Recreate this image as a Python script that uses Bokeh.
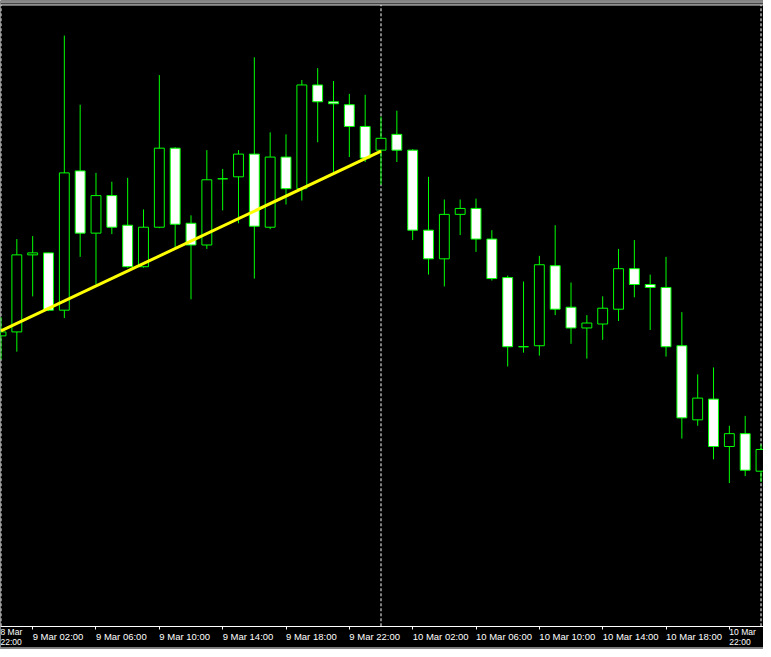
from bokeh.plotting import figure
from bokeh.models import (Range1d, FixedTicker, Span, ColumnDataSource, Label,
                          BoxAnnotation)
from bokeh.embed import file_html
from bokeh.resources import INLINE

# Hourly candles, hours after 9 Mar 00:00 (price in points)
hours = list(range(49))
opens = [661, 665, 743, 745, 687, 828, 765, 803, 773, 731, 771, 851, 775, 753, 820, 822,
         845, 771, 842, 810, 915, 898, 895, 873, 849, 865, 849, 768, 739, 784, 790, 759,
         720, 650, 651, 732, 690, 669, 673, 688, 729, 713, 710, 651, 576, 597, 549, 562, 524]
highs = [680, 759, 762, 745, 965, 895, 826, 817, 821, 789, 925, 852, 783, 849, 830, 849,
         943, 867, 865, 920, 932, 919, 906, 905, 883, 889, 850, 822, 799, 799, 800, 768,
         722, 716, 742, 773, 715, 682, 701, 749, 758, 723, 741, 685, 622, 629, 570, 580, 551]
lows = [637, 645, 701, 686, 679, 741, 713, 764, 730, 730, 770, 750, 698, 749, 788, 775,
        719, 769, 794, 798, 857, 827, 842, 837, 814, 837, 758, 723, 711, 763, 746, 717,
        630, 644, 641, 682, 653, 638, 657, 676, 700, 667, 640, 557, 570, 536, 512, 519, 513]
closes = [665, 743, 745, 687, 826, 765, 803, 771, 731, 771, 851, 774, 753, 819, 820, 845,
          772, 842, 810, 915, 898, 896, 873, 841, 861, 849, 768, 739, 784, 790, 759, 719,
          650, 650, 733, 688, 669, 674, 689, 729, 713, 710, 650, 578, 598, 549, 562, 525, 546]

tick_hours = [-2, 2, 6, 10, 14, 18, 22, 26, 30, 34, 38, 42, 46]
tick_labels = ["8 Mar 22:00", "9 Mar 02:00", "9 Mar 06:00", "9 Mar 10:00", "9 Mar 14:00",
               "9 Mar 18:00", "9 Mar 22:00", "10 Mar 02:00", "10 Mar 06:00", "10 Mar 10:00",
               "10 Mar 14:00", "10 Mar 18:00", "10 Mar 22:00"]

day_separators = [0, 24, 48]
trend_hours = [0, 24]
trend_prices = [666, 848]

GREEN = "#00FF00"
FONT = "Liberation Sans"
FONT_SIZE = "9.5px"
W, H = 763, 649
x_start, x_end = -0.5 / 16, 770.5 / 16
y_bottom, y_top = 343.5, 1000.5
axis_level = 367        # price level where the time axis is drawn
label_level = 356.5     # centre of the time labels
chart_top = 996         # white border line at the top of the chart
bottom_border = 345     # white border line under the labels

p = figure(frame_width=W, frame_height=H, output_backend="svg",
           toolbar_location=None, x_range=Range1d(x_start, x_end),
           y_range=Range1d(y_bottom, y_top), y_axis_location=None,
           min_border=0, background_fill_color="black",
           border_fill_color="black", outline_line_color=None)
p.xgrid.visible = False
p.ygrid.visible = False

src = ColumnDataSource(dict(
    x=hours, o=opens, h=highs, l=lows, c=closes,
    top=[max(a, b) for a, b in zip(opens, closes)],
    bot=[min(a, b) for a, b in zip(opens, closes)],
    fill=["white" if c < o else "black" for o, c in zip(opens, closes)],
))

# frame decorations
p.add_layout(BoxAnnotation(bottom=chart_top + 1.5, top=y_top, fill_color="#8a8a8a",
                           fill_alpha=1, line_color=None))
p.add_layout(Span(location=chart_top, dimension="width", line_color="white", line_width=1))
p.add_layout(Span(location=bottom_border, dimension="width", line_color="white", line_width=1))

# day separators
p.segment(x0=day_separators, y0=[axis_level] * len(day_separators),
          x1=day_separators, y1=[chart_top] * len(day_separators),
          line_color="white", line_width=1, line_dash="3 2")

p.segment(x0="x", y0="l", x1="x", y1="h", source=src, line_color=GREEN, line_width=1)
p.vbar(x="x", width=0.625, top="top", bottom="bot", source=src,
       fill_color="fill", line_color=GREEN, line_width=1)

p.line(trend_hours, trend_prices, line_color="#FFFF00", line_width=3)

# time axis
label_span = 3.6  # approx. label width in hours
inner = {t: s for t, s in zip(tick_hours, tick_labels) if t >= x_start and t + label_span <= x_end}
edge = [(t, s) for t, s in zip(tick_hours, tick_labels) if t not in inner]

ax = p.xaxis[0]
ax.fixed_location = axis_level
ax.ticker = FixedTicker(ticks=tick_hours)
ax.major_label_overrides = {t: inner.get(t, "") for t in tick_hours}
ax.axis_line_color = "white"
ax.major_tick_line_color = "white"
ax.major_tick_in = 0
ax.major_tick_out = 3
ax.minor_tick_line_color = None
ax.major_label_standoff = 7
ax.major_label_orientation = -0.0001
ax.major_label_text_color = "white"
ax.major_label_text_font = FONT
ax.major_label_text_font_size = FONT_SIZE

# labels that would run past the chart edges are wrapped onto two lines
for t, s in edge:
    date, time = s.rsplit(" ", 1)
    p.add_layout(Label(x=max(t, x_start), y=label_level, text=date + "\n" + time,
                       text_align="left", text_baseline="middle", text_color="white",
                       text_font=FONT, text_font_size="8.5px", text_line_height=1.0))

open("out.html", "w").write(file_html(p, INLINE))
